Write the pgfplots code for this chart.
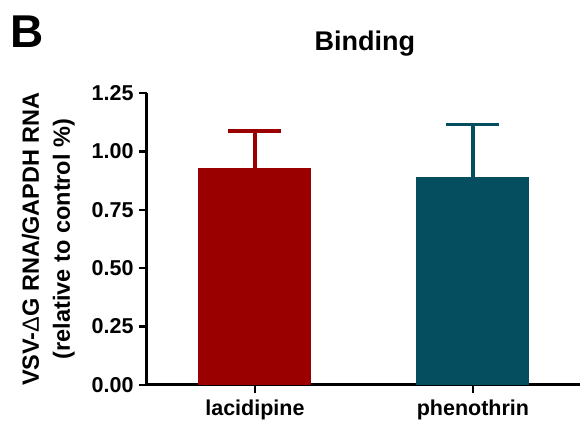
\documentclass[border=0pt]{standalone}
\usepackage{pgfplots}
\pgfplotsset{compat=1.18}
\usepackage{fontspec}
\setmainfont{Liberation Sans}
\definecolor{lacred}{RGB}{155,0,0}
\definecolor{phenteal}{RGB}{5,78,95}
\begin{document}
\begin{tikzpicture}[x=1pt,y=1pt]
\path[use as bounding box] (-147,-37) rectangle (433,385);
\begin{axis}[
  at={(0,0)}, anchor=south west,
  scale only axis, width=433pt, height=292pt,
  xmin=-0.495, xmax=1.491, ymin=0, ymax=1.25,
  axis x line*=bottom, axis y line*=left,
  axis line style={-, line width=3pt, black},
  xtick={0,1}, xticklabels={lacidipine,phenothrin},
  ytick={0,0.25,0.5,0.75,1,1.25},
  ticklabel style={font=\bfseries\fontsize{21.5}{24}\selectfont},
  yticklabel style={xshift=-2pt, /pgf/number format/.cd, fixed, fixed zerofill, precision=2, assume math mode=true},
  xticklabel style={yshift=-3pt},
  tick style={line width=2.5pt, black},
  tick align=outside, major tick length=8pt,
  title={Binding},
  title style={font=\bfseries\fontsize{27}{30}\selectfont, at={(axis description cs:0.503,1)}, anchor=base, yshift=36pt},
  ylabel={VSV-{\mdseries Δ}G RNA/GAPDH RNA\\(relative to control \%)},
  ylabel style={font=\bfseries\fontsize{23.5}{31}\selectfont, align=center, at={(axis description cs:0,0.5)}, anchor=south, inner sep=0pt, yshift=72pt},
  clip=false,
]
\addplot[ybar, bar width=113pt, bar shift=0pt, fill=lacred, draw=none,
  error bars/.cd, y dir=plus, y explicit, error mark=|,
  error bar style={line width=4pt, lacred},
  error mark options={line width=3.5pt, lacred, mark size=26.5pt}]
  coordinates {(0,0.928) +- (0,0.159)};
\addplot[ybar, bar width=113pt, bar shift=0pt, fill=phenteal, draw=none,
  error bars/.cd, y dir=plus, y explicit, error mark=|,
  error bar style={line width=4pt, phenteal},
  error mark options={line width=3.5pt, phenteal, mark size=26.5pt}]
  coordinates {(1,0.892) +- (0,0.224)};
\end{axis}
\node[anchor=base west, inner sep=0pt, font=\bfseries\fontsize{46}{50}\selectfont] at (-137,337) {B};
\end{tikzpicture}
\end{document}
